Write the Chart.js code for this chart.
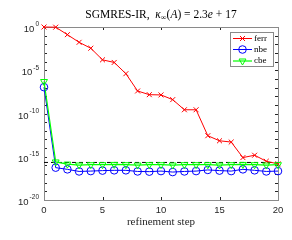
<!DOCTYPE html>
<html>
<head>
<meta charset="utf-8">
<script src="https://cdn.jsdelivr.net/npm/chart.js@4/dist/chart.umd.min.js"></script>
<style>
html,body{margin:0;padding:0;background:#fff;}
canvas{display:block;}
</style>
</head>
<body>
<canvas id="c" width="292" height="240"></canvas>
<script>
// ---- data ----
const steps = [0,1,2,3,4,5,6,7,8,9,10,11,12,13,14,15,16,17,18,19,20];
const ferr = [1, 0.95, 1.3e-1, 1.7e-2, 3.5e-3, 1.6e-4, 8e-5, 4e-6, 4e-8, 1.5e-8, 1.4e-8, 4e-9, 2.7e-10, 2.7e-10, 2.7e-13, 7e-14, 5e-14, 8e-16, 1.5e-15, 3e-16, 1.5e-16];
const nbe = [1.1e-7, 5.5e-17, 3.5e-17, 2e-17, 2.2e-17, 2.5e-17, 2.7e-17, 2.7e-17, 2e-17, 1.9e-17, 2.2e-17, 1.7e-17, 2e-17, 2.2e-17, 3e-17, 2.5e-17, 2.2e-17, 3.5e-17, 2.7e-17, 2e-17, 2.2e-17];
const cbe = [5e-7, 2.5e-16, 1.4e-16, 1.1e-16, 1.2e-16, 1.2e-16, 1.3e-16, 1.2e-16, 1.1e-16, 1.2e-16, 1.2e-16, 1.1e-16, 1.2e-16, 1.2e-16, 1.2e-16, 1.1e-16, 1.2e-16, 1.3e-16, 1.2e-16, 1.1e-16, 1.2e-16];
const epsLevel = 2.2e-16;
const xTicks = [0, 5, 10, 15, 20];
const yTickExps = [0, -5, -10, -15, -20];
const seriesNames = ['ferr', 'nbe', 'cbe'];
const titleParts = [
  {t: 'SGMRES-IR,  ', s: 'n'},
  {t: 'κ', s: 'i'},
  {t: '∞', s: 'sub'},
  {t: '(', s: 'n'},
  {t: 'A', s: 'i'},
  {t: ') = 2.3', s: 'n'},
  {t: 'e', s: 'i'},
  {t: ' + 17', s: 'n'}
];
const xLabel = 'refinement step';

const pts = arr => steps.map((x, i) => ({x: x, y: arr[i]}));

const serif = '"Liberation Serif", "DejaVu Serif", serif';
const sans = '"Liberation Sans", Arial, sans-serif';

const decorPlugin = {
  id: 'decor',
  beforeDatasetsDraw(chart) {
    const ctx = chart.ctx, a = chart.chartArea;
    const xs = chart.scales.x, ys = chart.scales.y;
    ctx.save();
    ctx.strokeStyle = '#262626';
    ctx.lineWidth = 1;
    // ticks inward
    ctx.beginPath();
    xTicks.forEach(v => {
      const px = Math.round(xs.getPixelForValue(v)) + 0.5;
      ctx.moveTo(px, a.bottom); ctx.lineTo(px, a.bottom - 3);
      ctx.moveTo(px, a.top); ctx.lineTo(px, a.top + 3);
    });
    for (let e = 0; e >= -20; e--) {
      const py = Math.round(ys.getPixelForValue(Math.pow(10, e))) + 0.5;
      ctx.moveTo(a.left, py); ctx.lineTo(a.left + 3, py);
      ctx.moveTo(a.right, py); ctx.lineTo(a.right - 3, py);
    }
    ctx.stroke();
    ctx.strokeStyle = '#8a8a8a';
    ctx.strokeRect(Math.round(a.left) + 0.5, Math.round(a.top) + 0.5, Math.round(a.right - a.left), Math.round(a.bottom - a.top));
    ctx.restore();
  },
  afterDraw(chart) {
    const ctx = chart.ctx, a = chart.chartArea;
    const xs = chart.scales.x, ys = chart.scales.y;
    ctx.save();
    ctx.fillStyle = '#262626';
    // x tick labels
    ctx.font = '9.5px ' + sans;
    ctx.textAlign = 'center';
    ctx.textBaseline = 'middle';
    xTicks.forEach(v => ctx.fillText(String(v), xs.getPixelForValue(v), 210));
    // y tick labels
    yTickExps.forEach(e => {
      const py = ys.getPixelForValue(Math.pow(10, e));
      const right = 39;
      ctx.font = '6.5px ' + sans;
      ctx.textAlign = 'right';
      const es = String(e);
      const w = ctx.measureText(es).width;
      ctx.fillText(es, right, py - 2.5);
      ctx.font = '9.5px ' + sans;
      ctx.fillText('10', right - w - 1, py + 2.5);
    });
    // x label
    ctx.fillStyle = '#262626';
    ctx.font = '11px ' + serif;
    ctx.textAlign = 'center';
    ctx.fillText(xLabel, (a.left + a.right) / 2, 222);
    // title
    const fs = 11.5;
    const fontFor = s => (s === 'i' ? 'italic ' + fs + 'px ' : s === 'sub' ? (fs * 0.7) + 'px ' : fs + 'px ') + serif;
    let total = 0;
    titleParts.forEach(p => { ctx.font = fontFor(p.s); total += ctx.measureText(p.t).width; });
    let x = (a.left + a.right) / 2 - total / 2;
    ctx.textAlign = 'left';
    ctx.textBaseline = 'alphabetic';
    ctx.fillStyle = '#000';
    titleParts.forEach(p => {
      ctx.font = fontFor(p.s);
      ctx.fillText(p.t, x, p.s === 'sub' ? 20 : 18);
      x += ctx.measureText(p.t).width;
    });
    // legend
    const lx = 230.5, ly = 32.5, lw = 43, lh = 34;
    ctx.fillStyle = '#fff';
    ctx.fillRect(lx, ly, lw, lh);
    ctx.strokeStyle = '#8a8a8a';
    ctx.lineWidth = 1;
    ctx.strokeRect(lx, ly, lw, lh);
    const rows = [38.5, 49.5, 61];
    chart.data.datasets.slice(0, 3).forEach((ds, i) => {
      const y = rows[i];
      ctx.strokeStyle = ds.borderColor;
      ctx.lineWidth = ds.borderWidth;
      ctx.beginPath(); ctx.moveTo(233, y); ctx.lineTo(252, y); ctx.stroke();
      ctx.fillStyle = 'rgba(0,0,0,0)';
      ctx.lineWidth = ds.pointBorderWidth;
      Chart.helpers.drawPoint(ctx, {pointStyle: ds.pointStyle, rotation: ds.rotation || 0, radius: ds.pointRadius, borderWidth: ds.pointBorderWidth}, 242.5, y);
      ctx.fillStyle = '#000';
      ctx.font = '9px ' + serif;
      ctx.textBaseline = 'middle';
      ctx.fillText(ds.label, 254, y);
    });
    ctx.restore();
  }
};

new Chart(document.getElementById('c'), {
  type: 'line',
  data: {
    datasets: [
      {label: seriesNames[0], data: pts(ferr), borderColor: '#ff0000', backgroundColor: 'rgba(0,0,0,0)', borderWidth: 1, pointStyle: 'crossRot', pointRadius: 3.5, pointBorderWidth: 1, pointBorderColor: '#ff0000', order: 3, clip: 6},
      {label: seriesNames[1], data: pts(nbe), borderColor: '#0000ff', backgroundColor: 'rgba(0,0,0,0)', borderWidth: 1, pointStyle: 'circle', pointRadius: 3.8, pointBorderWidth: 1, pointBorderColor: '#0000ff', order: 2, clip: 6},
      {label: seriesNames[2], data: pts(cbe), borderColor: '#00ff00', backgroundColor: 'rgba(0,0,0,0)', borderWidth: 1.2, pointStyle: 'triangle', rotation: 180, pointRadius: 4, pointBorderWidth: 1, pointBorderColor: '#00ff00', order: 1, clip: 6},
      {label: 'eps', data: [{x: steps[0], y: epsLevel}, {x: steps[steps.length - 1], y: epsLevel}], borderColor: '#000', borderWidth: 1, borderDash: [4, 3], pointRadius: 0, order: 4}
    ]
  },
  options: {
    responsive: false,
    animation: false,
    events: [],
    layout: {padding: {left: 44, right: 14, top: 27, bottom: 40}},
    plugins: {legend: {display: false}, title: {display: false}, tooltip: {enabled: false}},
    elements: {line: {tension: 0}},
    scales: {
      x: {type: 'linear', min: 0, max: 20, display: false},
      y: {type: 'logarithmic', min: 1e-20, max: 1, display: false}
    }
  },
  plugins: [decorPlugin]
});
</script>
</body>
</html>
